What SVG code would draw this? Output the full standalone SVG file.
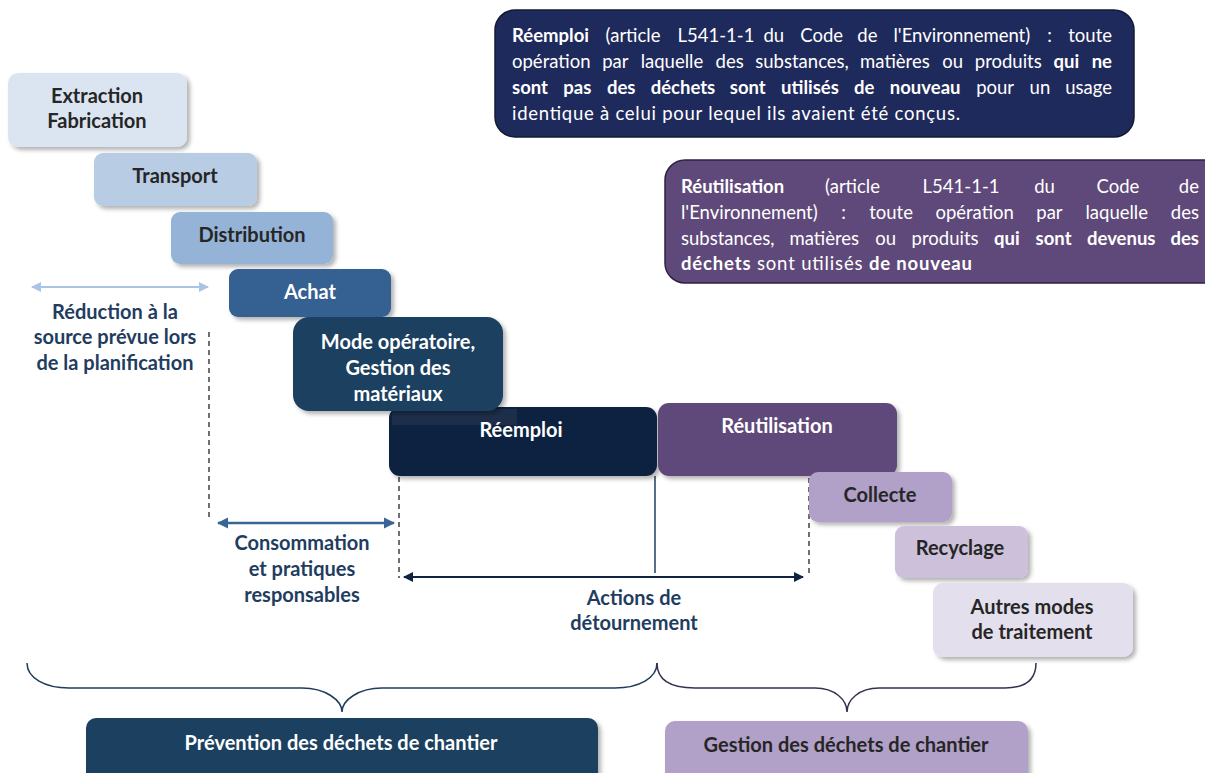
<svg xmlns="http://www.w3.org/2000/svg" width="1205" height="773" viewBox="0 0 1205 773">
<defs>
<filter id="sh" x="-10%" y="-10%" width="125%" height="135%">
<feDropShadow dx="3" dy="3" stdDeviation="2" flood-color="#000" flood-opacity="0.3"/>
</filter>
<marker id="aLight" viewBox="0 0 10 10" refX="9" refY="5" markerWidth="5" markerHeight="5" orient="auto-start-reverse" markerUnits="strokeWidth"><path d="M0,0 L10,5 L0,10 z" fill="#a9c4e4"/></marker>
<marker id="aMid" viewBox="0 0 10 10" refX="9" refY="5" markerWidth="4.5" markerHeight="4.5" orient="auto-start-reverse" markerUnits="strokeWidth"><path d="M0,0 L10,5 L0,10 z" fill="#3a6396"/></marker>
<marker id="aDark" viewBox="0 0 10 10" refX="9" refY="5" markerWidth="5" markerHeight="5" orient="auto-start-reverse" markerUnits="strokeWidth"><path d="M0,0 L10,5 L0,10 z" fill="#10233f"/></marker>
</defs>
<style>
.lbl{font-family:Lato,"Open Sans","Liberation Sans",sans-serif;font-weight:bold;font-size:20px;text-anchor:middle}
.dk{fill:#262626}
.wt{fill:#ffffff}
.bl{fill:#1f3d5f}
.body{font-family:Lato,"Open Sans","Liberation Sans",sans-serif;font-size:18.5px;fill:#ffffff}
.b{font-weight:bold}
.dash{stroke:#333;stroke-width:1.4;stroke-dasharray:5,4;fill:none}
</style>
<rect width="1205" height="773" fill="#ffffff"/>

<g id="def-reemploi">
<rect x="495" y="10" width="639" height="127" rx="20" fill="#1f2a5c" stroke="#141a33" stroke-width="1.5"/>
<text class="body" y="42"><tspan x="512" class="b">Réemploi</tspan><tspan x="605.6">(article</tspan><tspan x="677.5">L541-1-1</tspan><tspan x="763.5">du</tspan><tspan x="800.3">Code</tspan><tspan x="857.3">de</tspan><tspan x="893.5">l'Environnement)</tspan><tspan x="1047.3">:</tspan><tspan x="1112" text-anchor="end">toute</tspan></text>
<text class="body" y="68"><tspan x="512">opération</tspan><tspan x="602.2">par</tspan><tspan x="640.7">laquelle</tspan><tspan x="715.6">des</tspan><tspan x="755.3">substances,</tspan><tspan x="860.1">matières</tspan><tspan x="942.2">ou</tspan><tspan x="974.8">produits</tspan><tspan x="1053.5" class="b">qui</tspan><tspan x="1112" text-anchor="end" class="b">ne</tspan></text>
<text class="body" y="94"><tspan x="512" class="b">sont</tspan><tspan x="563.3" class="b">pas</tspan><tspan x="606.9" class="b">des</tspan><tspan x="650.7" class="b">déchets</tspan><tspan x="729.8" class="b">sont</tspan><tspan x="781.1" class="b">utilisés</tspan><tspan x="853.9" class="b">de</tspan><tspan x="889.8" class="b">nouveau</tspan><tspan x="976.2">pour</tspan><tspan x="1029.6">un</tspan><tspan x="1112" text-anchor="end">usage</tspan></text>
<text class="body" x="512" y="120" textLength="448" lengthAdjust="spacing">identique à celui pour lequel ils avaient été conçus.</text>
</g>

<g id="def-reutilisation">
<rect x="665" y="160" width="560" height="123" rx="20" fill="#5f497a" stroke="#2e2240" stroke-width="1.5"/>
<text class="body" y="193"><tspan x="681" class="b">Réutilisation</tspan><tspan x="825.1">(article</tspan><tspan x="922.6">L541-1-1</tspan><tspan x="1034.2">du</tspan><tspan x="1096.6">Code</tspan><tspan x="1199" text-anchor="end">de</tspan></text>
<text class="body" y="219"><tspan x="681">l'Environnement)</tspan><tspan x="841.3">:</tspan><tspan x="869.2">toute</tspan><tspan x="935.4">opération</tspan><tspan x="1036.3">par</tspan><tspan x="1085.5">laquelle</tspan><tspan x="1199" text-anchor="end">des</tspan></text>
<text class="body" y="245"><tspan x="681">substances,</tspan><tspan x="789.5">matières</tspan><tspan x="875.3">ou</tspan><tspan x="911.6">produits</tspan><tspan x="994" class="b">qui</tspan><tspan x="1035.6" class="b">sont</tspan><tspan x="1087" class="b">devenus</tspan><tspan x="1199" text-anchor="end" class="b">des</tspan></text>
<text class="body" x="681" y="270" textLength="291" lengthAdjust="spacing"><tspan class="b">déchets</tspan> sont utilisés <tspan class="b">de nouveau</tspan></text>
</g>

<g id="connectors">
<line x1="32" y1="287" x2="208" y2="287" stroke="#a9c4e4" stroke-width="2" marker-start="url(#aLight)" marker-end="url(#aLight)"/>
<line class="dash" x1="209" y1="332" x2="209" y2="518"/>
<line x1="218" y1="523" x2="394" y2="523" stroke="#3a6396" stroke-width="2.5" marker-start="url(#aMid)" marker-end="url(#aMid)"/>
<line class="dash" x1="399" y1="477" x2="399" y2="578"/>
<line x1="404" y1="577" x2="803" y2="577" stroke="#10233f" stroke-width="2" marker-start="url(#aDark)" marker-end="url(#aDark)"/>
<line x1="655" y1="476" x2="655" y2="573" stroke="#1f3f60" stroke-width="1.5"/>
<line class="dash" x1="809" y1="478" x2="809" y2="577"/>
<path d="M27,663 C27,678 45,688 69,688 L302,688 C325,688 342,700 342,712 C342,700 359,688 382,688 L615,688 C639,688 657,678 657,663" fill="none" stroke="#1f3d5f" stroke-width="1.5"/>
<path d="M657,663 C657,680 670,688 695,688 L815,688 C835,688 847,700 847,712 C847,700 859,688 879,688 L1005,688 C1025,688 1036,680 1036,663" fill="none" stroke="#3b2d4f" stroke-width="1.5"/>
</g>

<g id="extraction"><rect x="8" y="73" width="179" height="74" rx="10" fill="#dbe5f1" filter="url(#sh)"/><text class="lbl dk" x="97" y="103">Extraction</text><text class="lbl dk" x="97" y="128">Fabrication</text></g>
<g id="transport"><rect x="94" y="153" width="163" height="53" rx="9" fill="#b8cce4" filter="url(#sh)"/><text class="lbl dk" x="175" y="183">Transport</text></g>
<g id="distribution"><rect x="171" y="212" width="162" height="52" rx="9" fill="#95b3d7" filter="url(#sh)"/><text class="lbl dk" x="252" y="242">Distribution</text></g>
<g id="achat"><rect x="229" y="269" width="162" height="48" rx="9" fill="#366092" filter="url(#sh)"/><text class="lbl wt" x="310" y="299">Achat</text></g>
<g id="reemploi"><rect x="389" y="407" width="268" height="69" rx="11" fill="#10233f" filter="url(#sh)"/><rect x="392" y="409" width="125" height="16" fill="#1d2e4b"/><text class="lbl wt" x="521" y="437">Réemploi</text></g>
<g id="mode"><rect x="293" y="317" width="210" height="94" rx="16" fill="#1e3f60" filter="url(#sh)"/><text class="lbl wt" x="398" y="349">Mode opératoire,</text><text class="lbl wt" x="398" y="375">Gestion des</text><text class="lbl wt" x="398" y="401">matériaux</text></g>
<g id="reutilisation"><rect x="658" y="403" width="239" height="73" rx="11" fill="#5f497a" filter="url(#sh)"/><text class="lbl wt" x="777" y="433">Réutilisation</text></g>
<g id="collecte"><rect x="809" y="472" width="143" height="50" rx="9" fill="#b1a0c7" filter="url(#sh)"/><text class="lbl dk" x="880" y="502">Collecte</text></g>
<g id="recyclage"><rect x="895" y="526" width="133" height="52" rx="9" fill="#ccc0da" filter="url(#sh)"/><text class="lbl dk" x="960" y="555">Recyclage</text></g>
<g id="autres"><rect x="933" y="583" width="200" height="74" rx="10" fill="#e4dfec" filter="url(#sh)"/><text class="lbl dk" x="1032" y="614">Autres modes</text><text class="lbl dk" x="1032" y="639">de traitement</text></g>

<g id="reduction-label"><text class="lbl bl" x="115" y="319">Réduction à la</text><text class="lbl bl" x="115" y="344">source prévue lors</text><text class="lbl bl" x="115" y="370">de la planification</text></g>
<g id="consommation-label"><text class="lbl bl" x="302" y="550">Consommation</text><text class="lbl bl" x="302" y="576">et pratiques</text><text class="lbl bl" x="302" y="602">responsables</text></g>
<g id="actions-label"><text class="lbl bl" x="634" y="605">Actions de</text><text class="lbl bl" x="634" y="630">détournement</text></g>

<g id="prevention"><rect x="86" y="718" width="512" height="70" rx="10" fill="#1f3f5f" filter="url(#sh)"/><text class="lbl wt" x="341" y="750">Prévention des déchets de chantier</text></g>
<g id="gestion"><rect x="665" y="721" width="363" height="70" rx="10" fill="#b1a0c7" filter="url(#sh)"/><text class="lbl dk" x="846" y="752">Gestion des déchets de chantier</text></g>
</svg>
